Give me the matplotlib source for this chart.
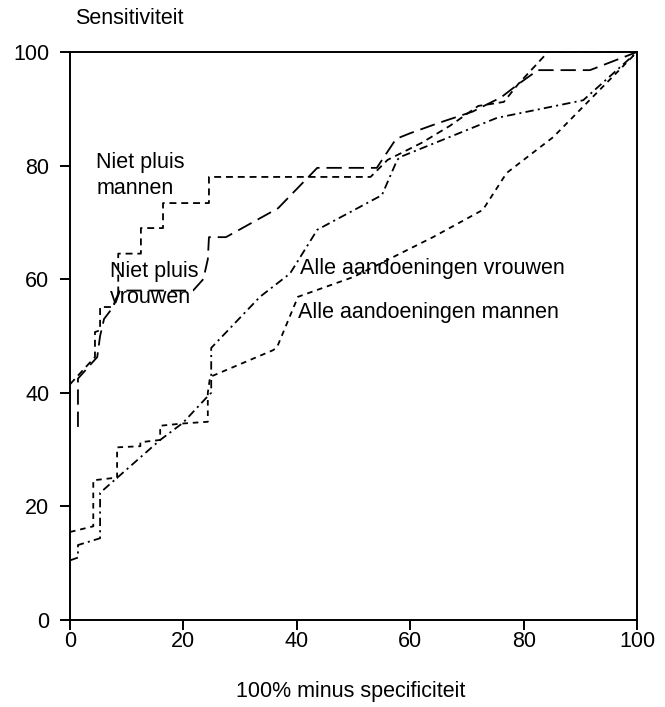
import matplotlib
matplotlib.use("Agg")
import matplotlib.pyplot as plt

plt.rcParams["font.family"] = ["Liberation Sans", "DejaVu Sans"]
plt.rcParams["lines.scale_dashes"] = False

# ROC curves (x = 100% minus specificity, y = sensitivity)
np_men_x = [0, 4.4, 4.4, 5.3, 5.3, 7.6, 8.5, 8.5, 12.5, 12.5, 16.4, 16.4, 24.5, 24.5,
            53, 56, 62, 67, 72, 76.5, 79, 84.3, 100]
np_men_y = [41.5, 46.3, 50.7, 51, 55.1, 55.1, 57.7, 64.5, 64.5, 69, 69, 73.4, 73.4, 78,
            78, 81, 84, 87, 90.5, 91.2, 94.3, 100, 100]

np_women_x = [1.4, 1.4, 4.8, 5.3, 6, 7.6, 8.7, 21.7, 23.5, 24.3, 24.5, 27.5, 36.7, 43.6,
              54.1, 57.5, 60, 65, 71, 76, 79, 82.5, 91.7, 100]
np_women_y = [34, 42.5, 46.3, 50, 53, 55.1, 58, 58, 60, 63.5, 67.4, 67.4, 72.5, 79.6,
              79.6, 84.7, 85.7, 87.5, 89.5, 92, 94.3, 96.8, 96.8, 100]

all_men_x = [0, 4.1, 4.1, 7.6, 8.3, 8.3, 12.4, 12.4, 15.9, 15.9, 19.9, 24.3, 24.3, 24.7,
             35.8, 36.5, 40.2, 50, 64, 72.8, 77, 85.2, 92.2, 100]
all_men_y = [15.5, 16.5, 24.6, 25, 25, 30.4, 30.6, 31.3, 31.7, 34.2, 34.6, 34.9, 40, 42.8,
             47.5, 48, 56.9, 60.4, 67.4, 72.2, 78.7, 85, 92.1, 100]

all_women_x = [0, 1.4, 1.4, 5.3, 5.3, 15.9, 19.9, 24.2, 24.9, 24.9, 33.5, 38.8, 43.6,
               55, 57.7, 58.2, 75.3, 90.5, 100]
all_women_y = [10.5, 11, 13.2, 14.4, 22.4, 31.7, 34.7, 39.3, 40, 47.9, 56.9, 61, 68.7,
               74.8, 81, 81.5, 88.4, 91.5, 100]

ticks = [0, 20, 40, 60, 80, 100]

fig = plt.figure(figsize=(6.65, 7.07), dpi=100)
ax = fig.add_axes([0.1053, 0.123, 0.8527, 0.8035])

lw = 1.3
ax.plot(np_men_x, np_men_y, color="black", lw=lw, dashes=(5, 3.5))
ax.plot(np_women_x, np_women_y, color="black", lw=lw, dashes=(11, 5))
ax.plot(all_men_x, all_men_y, color="black", lw=lw, dashes=(4, 3.5))
ax.plot(all_women_x, all_women_y, color="black", lw=lw, dashes=(6, 3, 1.5, 3))

ax.set_xlim(0, 100)
ax.set_ylim(0, 100)
ax.set_xticks(ticks)
ax.set_yticks(ticks)
ax.tick_params(direction="out", length=7, width=1.4, labelsize=15.5)
ax.tick_params(axis="y", pad=8)
ax.tick_params(axis="x", pad=1)
for sp in ax.spines.values():
    sp.set_linewidth(1.4)

txt = dict(fontsize=15.5, color="black", linespacing=1.3)
ax.text(4.6, 78.3, "Niet pluis\nmannen", va="center", ha="left", **txt)
ax.text(7.0, 59.0, "Niet pluis\nvrouwen", va="center", ha="left", **txt)
ax.text(40.6, 61.8, "Alle aandoeningen vrouwen", va="center", ha="left", **txt)
ax.text(40.2, 54.2, "Alle aandoeningen mannen", va="center", ha="left", **txt)

fig.text(75 / 665, 1 - 18 / 707, "Sensitiviteit", fontsize=15.5, va="center", ha="left")
fig.text(351 / 665, 1 - 692 / 707, "100% minus specificiteit", fontsize=15.5, va="center", ha="center")

fig.savefig("out.png", dpi=100)
